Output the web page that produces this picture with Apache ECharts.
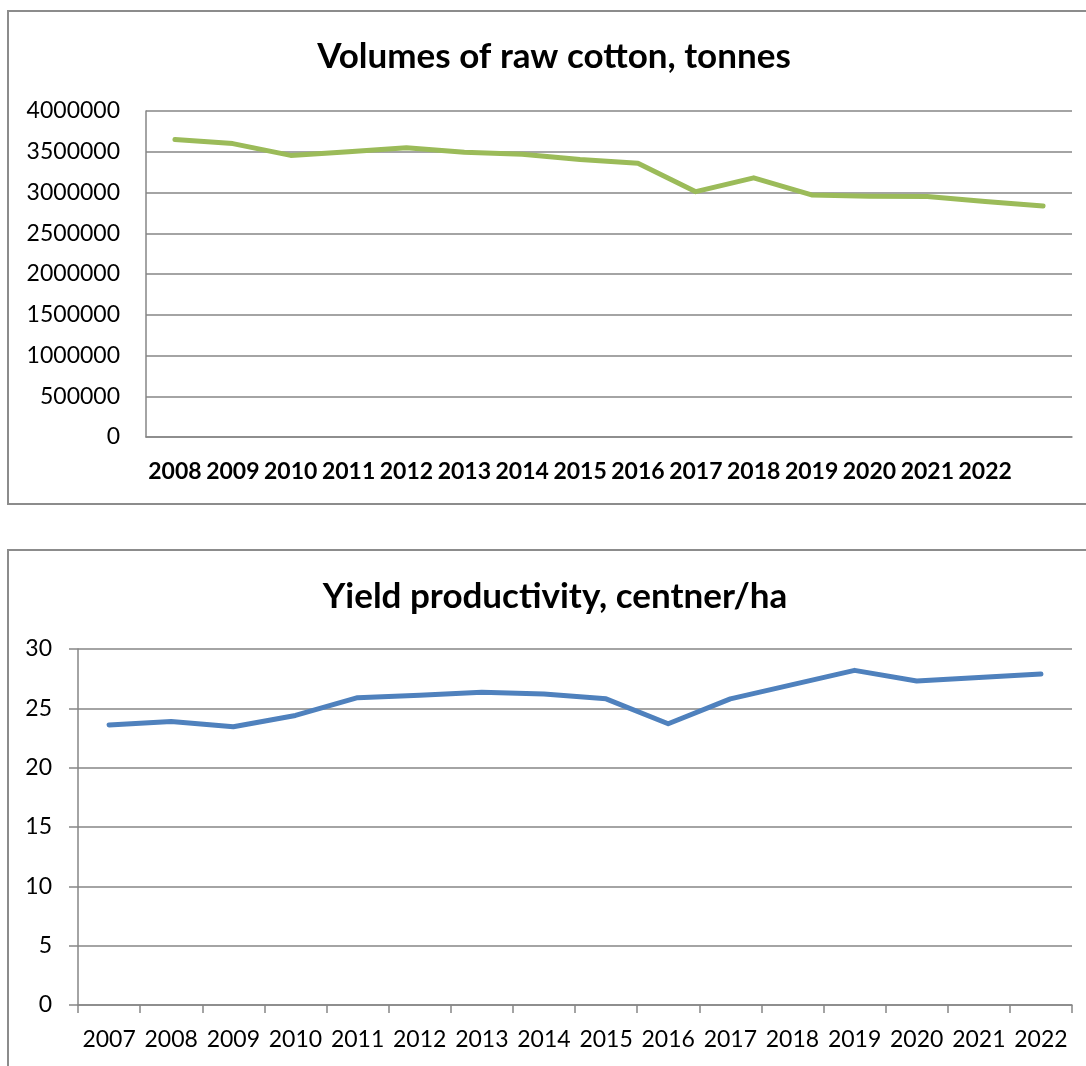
<!DOCTYPE html>
<html>
<head>
<meta charset="utf-8">
<script src="https://cdn.jsdelivr.net/npm/echarts@6/dist/echarts.min.js"></script>
<style>
html,body{margin:0;padding:0;background:#fff;}
#c{width:1086px;height:1066px;}
</style>
</head>
<body>
<div id="c"></div>
<script>
// ---- data ----
const cottonTitle = 'Volumes of raw cotton, tonnes';
const cottonYears = ['2008','2009','2010','2011','2012','2013','2014','2015','2016','2017','2018','2019','2020','2021','2022',''];
const cottonTonnes = [3650000,3600000,3455000,3500000,3550000,3495000,3470000,3405000,3360000,3010000,3180000,2970000,2955000,2950000,2890000,2835000];

const yieldTitle = 'Yield productivity, centner/ha';
const yieldYears = ['2007','2008','2009','2010','2011','2012','2013','2014','2015','2016','2017','2018','2019','2020','2021','2022'];
const yieldValues = [23.6,23.9,23.45,24.4,25.9,26.1,26.35,26.2,25.8,23.7,25.8,27.0,28.2,27.3,27.6,27.9];

const FONT = 'Lato, "Open Sans", sans-serif';
const GRID_COLOR = '#868686';
const BORDER_COLOR = '#8c8c8c';

const chart = echarts.init(document.getElementById('c'));
chart.setOption({
  animation: false,
  backgroundColor: '#ffffff',
  textStyle: { fontFamily: FONT, color: '#000' },
  graphic: [
    { type: 'polyline', silent: true, shape: { points: [[1092,11],[8,11],[8,504],[1092,504]] },
      style: { stroke: BORDER_COLOR, lineWidth: 2, fill: null } },
    { type: 'polyline', silent: true, shape: { points: [[1092,550],[8,550],[8,1072]] },
      style: { stroke: BORDER_COLOR, lineWidth: 2, fill: null } },
    { type: 'text', x: 554, y: 57, silent: true,
      style: { text: cottonTitle, font: 'bold 35px ' + FONT, fill: '#000', textAlign: 'center', textVerticalAlign: 'middle' } },
    { type: 'text', x: 555, y: 597, silent: true,
      style: { text: yieldTitle, font: 'bold 35px ' + FONT, fill: '#000', textAlign: 'center', textVerticalAlign: 'middle' } }
  ],
  grid: [
    { left: 146, top: 111, width: 926, height: 326 },
    { left: 78, top: 649, width: 994, height: 356 }
  ],
  xAxis: [
    { type: 'category', gridIndex: 0, data: cottonYears, boundaryGap: true,
      axisLine: { show: true, lineStyle: { color: GRID_COLOR, width: 1.5 } },
      axisTick: { show: false },
      axisLabel: { interval: 0, margin: 23, fontSize: 23, fontWeight: 'bold', color: '#000', fontFamily: FONT } },
    { type: 'category', gridIndex: 1, data: yieldYears, boundaryGap: true,
      axisLine: { show: true, lineStyle: { color: GRID_COLOR, width: 1.5 } },
      axisTick: { show: true, length: 8, lineStyle: { color: GRID_COLOR, width: 1.5 } },
      axisLabel: { interval: 0, margin: 23, fontSize: 23, color: '#000', fontFamily: FONT } }
  ],
  yAxis: [
    { type: 'value', gridIndex: 0, min: 0, max: 4000000, interval: 500000,
      axisLine: { show: true, lineStyle: { color: GRID_COLOR, width: 1.5 } },
      axisTick: { show: false },
      splitLine: { show: true, lineStyle: { color: GRID_COLOR, width: 1.5 } },
      axisLabel: { margin: 26, fontSize: 23, color: '#000', fontFamily: FONT, formatter: v => String(v) } },
    { type: 'value', gridIndex: 1, min: 0, max: 30, interval: 5,
      axisLine: { show: true, lineStyle: { color: GRID_COLOR, width: 1.5 } },
      axisTick: { show: true, length: 9, lineStyle: { color: GRID_COLOR, width: 1.5 } },
      splitLine: { show: true, lineStyle: { color: GRID_COLOR, width: 1.5 } },
      axisLabel: { margin: 26, fontSize: 23, color: '#000', fontFamily: FONT } }
  ],
  series: [
    { type: 'line', xAxisIndex: 0, yAxisIndex: 0, data: cottonTonnes, showSymbol: false, symbol: 'none',
      lineStyle: { color: '#9BBB59', width: 5, cap: 'round', join: 'round' } },
    { type: 'line', xAxisIndex: 1, yAxisIndex: 1, data: yieldValues, showSymbol: false, symbol: 'none',
      lineStyle: { color: '#4F81BD', width: 5, cap: 'round', join: 'round' } }
  ]
});
</script>
</body>
</html>
